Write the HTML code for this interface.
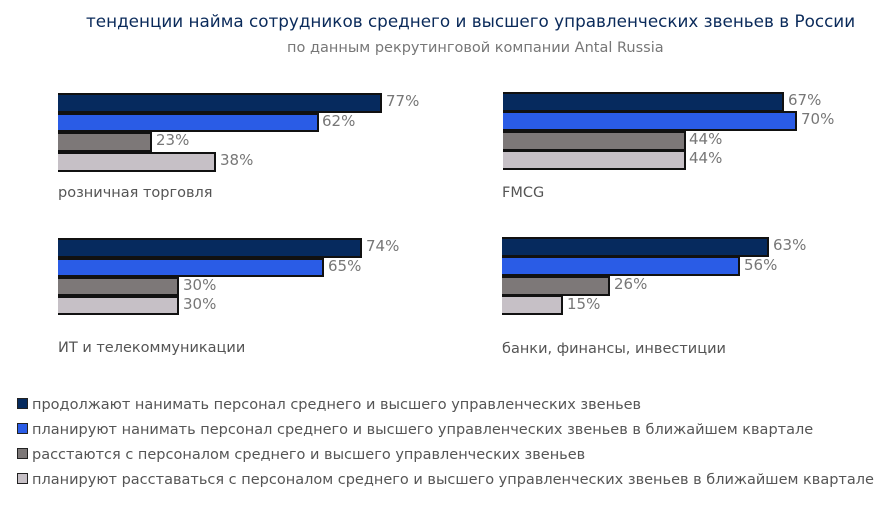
<!DOCTYPE html>
<html><head><meta charset="utf-8"><style>
body{margin:0;width:886px;height:518px;background:#fff;position:relative;overflow:hidden;font-family:"DejaVu Sans","Liberation Sans",sans-serif;}
.a{position:absolute;white-space:nowrap}
.b{position:absolute;box-sizing:border-box;border:2px solid #111;border-left:none}
.p{position:absolute;font-size:15px;color:#777;line-height:19px}
.c1{background:#062a5e}.c2{background:#2a5ce6}.c3{background:#7d7878}.c4{background:#c6c0c6}
.cat{position:absolute;font-size:14.5px;color:#555}
.lg{position:absolute;left:17px;font-size:14.5px;color:#555;line-height:18px}
.lg i{display:inline-block;width:9px;height:9px;border:1px solid #222;margin-right:4px;vertical-align:0px}
</style></head><body>
<div class="a" style="left:86px;top:11px;font-size:16.8px;color:#0a2a5a">тенденции найма сотрудников среднего и высшего управленческих звеньев в России</div>
<div class="a" style="left:287px;top:40px;font-size:14.5px;color:#777">по данным рекрутинговой компании Antal Russia</div>

<div class="b c1" style="left:58px;top:93px;width:324px;height:20px"></div><div class="p" style="left:386px;top:92px">77%</div>
<div class="b c2" style="left:58px;top:113px;width:261px;height:19px"></div><div class="p" style="left:322px;top:112px">62%</div>
<div class="b c3" style="left:58px;top:132px;width:94px;height:20px"></div><div class="p" style="left:156px;top:131px">23%</div>
<div class="b c4" style="left:58px;top:152px;width:158px;height:20px"></div><div class="p" style="left:220px;top:151px">38%</div>
<div class="cat" style="left:58px;top:185px">розничная торговля</div>

<div class="b c1" style="left:503px;top:92px;width:281px;height:20px"></div><div class="p" style="left:788px;top:91px">67%</div>
<div class="b c2" style="left:503px;top:111px;width:294px;height:20px"></div><div class="p" style="left:801px;top:110px">70%</div>
<div class="b c3" style="left:503px;top:131px;width:183px;height:20px"></div><div class="p" style="left:689px;top:130px">44%</div>
<div class="b c4" style="left:503px;top:150px;width:183px;height:20px"></div><div class="p" style="left:689px;top:149px">44%</div>
<div class="cat" style="left:502px;top:185px">FMCG</div>

<div class="b c1" style="left:58px;top:238px;width:304px;height:20px"></div><div class="p" style="left:366px;top:237px">74%</div>
<div class="b c2" style="left:58px;top:258px;width:266px;height:19px"></div><div class="p" style="left:328px;top:257px">65%</div>
<div class="b c3" style="left:58px;top:277px;width:121px;height:19px"></div><div class="p" style="left:183px;top:276px">30%</div>
<div class="b c4" style="left:58px;top:296px;width:121px;height:19px"></div><div class="p" style="left:183px;top:295px">30%</div>
<div class="cat" style="left:58px;top:340px">ИТ и телекоммуникации</div>

<div class="b c1" style="left:502px;top:237px;width:267px;height:20px"></div><div class="p" style="left:773px;top:236px">63%</div>
<div class="b c2" style="left:502px;top:256px;width:238px;height:20px"></div><div class="p" style="left:744px;top:256px">56%</div>
<div class="b c3" style="left:502px;top:276px;width:108px;height:20px"></div><div class="p" style="left:614px;top:275px">26%</div>
<div class="b c4" style="left:502px;top:295px;width:61px;height:20px"></div><div class="p" style="left:567px;top:295px">15%</div>
<div class="cat" style="left:502px;top:341px">банки, финансы, инвестиции</div>

<div class="lg" style="top:396px"><i class="c1"></i>продолжают нанимать персонал среднего и высшего управленческих звеньев</div>
<div class="lg" style="top:421px"><i class="c2"></i>планируют нанимать персонал среднего и высшего управленческих звеньев в ближайшем квартале</div>
<div class="lg" style="top:446px"><i class="c3"></i>расстаются с персоналом среднего и высшего управленческих звеньев</div>
<div class="lg" style="top:471px"><i class="c4"></i>планируют расставаться с персоналом среднего и высшего управленческих звеньев в ближайшем квартале</div>
</body></html>
